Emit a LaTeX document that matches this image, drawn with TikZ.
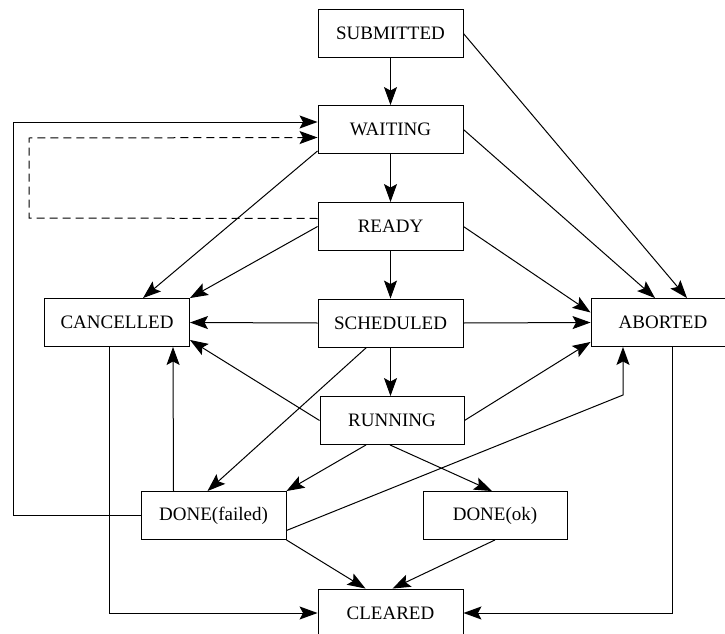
\documentclass[tikz,border=0pt]{standalone}
\usepackage{fontspec}
\setmainfont{Liberation Serif}
\usetikzlibrary{arrows.meta,calc}
\begin{document}
\begin{tikzpicture}[x=1pt,y=-1pt,
  state/.style={draw, line width=0.9pt, minimum width=145pt, minimum height=48pt, inner sep=0pt, font=\fontsize{19}{21}\selectfont},
  edge/.style={line width=1pt, -{Stealth[length=18pt,width=13pt,inset=3.5pt]}},
  dashedge/.style={edge, dash pattern=on 8pt off 5pt}]
\useasboundingbox (0,0) rectangle (725,634);
\clip (0,0) rectangle (725,634);
\node[state] (sub)   at (390.5,33.5)  {SUBMITTED};
\node[state] (wait)  at (390.5,129.5) {WAITING};
\node[state] (ready) at (390.5,226.5) {READY};
\node[state] (sched) at (390.5,323)   {SCHEDULED};
\node[state, minimum width=144pt] (run) at (392,420.5) {RUNNING};
\node[state] (canc)  at (117,322.5)   {CANCELLED};
\node[state, minimum width=144pt] (abort) at (663,322.5) {ABORTED};
\node[state] (fail)  at (213.5,515.5) {DONE(failed)};
\node[state, minimum width=144pt] (ok) at (495,515.5) {DONE(ok)};
\node[state] (clear) at (390.5,613)   {CLEARED};
% edges
\draw[edge] (sub.south) -- (wait.north);
\draw[edge] (sub.east) -- ($(abort.north)+(24,0)$);
\draw[edge] (wait.south) -- (ready.north);
\draw[edge] ($(wait.south west)+(0,-3)$) -- ($(canc.north)+(26,0)$);
\draw[edge] (wait.east) -- ($(abort.north)+(-8,0)$);
\draw[edge] (ready.south) -- (sched.north);
\draw[edge] (ready.west) -- (canc.north east);
\draw[edge] (ready.east) -- ($(abort.west)+(0,-10)$);
\coordinate (d1) at (29,218);
\coordinate (d2) at (29,138);
\draw[dashedge] ($(ready.west)+(0,-8)$) -- (d1) -- (d2) -- ($(wait.west)+(0,8)$);
\coordinate (l1) at (13,515.5);
\coordinate (l2) at (13,122);
\draw[edge] (fail.west) -- (l1) -- (l2) -- ($(wait.west)+(0,-7.5)$);
\draw[edge] (sched.west) -- (canc.east);
\draw[edge] (sched.east) -- (abort.west);
\draw[edge] (sched.south) -- (sched.south |- run.north);
\draw[edge] ($(sched.south)+(-24,0)$) -- ($(fail.north)+(-6,0)$);
\draw[edge] (run.west) -- ($(canc.south east)+(0,-7)$);
\draw[edge] (run.east) -- ($(abort.south west)+(0,-5)$);
\draw[edge] ($(run.south)+(-26,0)$) -- (fail.north east);
\draw[edge] ($(run.south)+(-2,0)$) -- ($(ok.north)+(-3,0)$);
\draw[edge] ($(fail.north)+(-40,0)$) -- ($(canc.south)+(56,0)$);
\coordinate (a1) at (623,395);
\draw[edge] ($(fail.east)+(0,15)$) -- (a1) -- (a1 |- abort.south);
\draw[edge] (fail.south east) -- ($(clear.north)+(-25,0)$);
\draw[edge] (ok.south) -- ($(clear.north)+(2,0)$);
\coordinate (c1) at (109,613);
\draw[edge] ($(canc.south)+(-8,0)$) -- (c1) -- (clear.west);
\coordinate (c2) at (672,613);
\draw[edge] ($(abort.south)+(9,0)$) -- (c2) -- (clear.east);
\end{tikzpicture}
\end{document}
